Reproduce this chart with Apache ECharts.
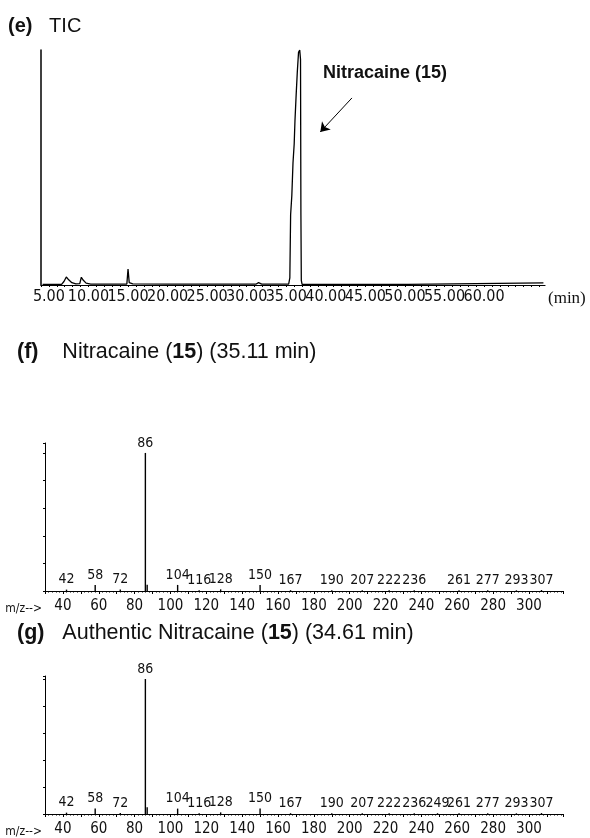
<!DOCTYPE html>
<html>
<head>
<meta charset="utf-8">
<script src="https://cdn.jsdelivr.net/npm/echarts@6/dist/echarts.min.js"></script>
<style>
  html, body { margin: 0; padding: 0; background: #fff; }
  #chart { width: 590px; height: 838px; }
</style>
</head>
<body>
<div id="chart"></div>
<script>
// Total ion chromatogram: [retention time (min), relative intensity (%)]
const ticTrace = [
  [4.2, 0.3], [6.6, 0.3], [6.9, 1.5], [7.2, 3.4], [7.5, 2.2], [7.9, 1.0], [8.4, 0.5],
  [8.9, 0.6], [9.1, 3.3], [9.35, 2.0], [9.7, 0.8], [10.3, 0.4],
  [14.85, 0.4], [15.0, 6.8], [15.15, 1.0], [15.6, 0.5],
  [20.0, 0.4], [24.6, 0.4], [24.85, 1.2], [25.1, 0.4],
  [31.2, 0.4], [31.5, 1.0], [31.9, 0.4],
  [35.3, 0.4], [35.45, 3.0], [35.55, 30], [35.7, 38], [35.85, 52], [36.0, 60],
  [36.1, 70], [36.25, 81], [36.4, 91], [36.55, 99], [36.7, 100], [36.8, 96],
  [36.85, 30], [36.9, 2.0], [37.0, 0.3],
  [50.4, 0.3], [50.6, 0.9], [67.5, 0.9]
];
const ticTickLabels = [5, 10, 15, 20, 25, 30, 35, 40, 45, 50, 55, 60];

// Mass spectrum (f): sample peak at 35.11 min
const mzF =     [42,  58,  72,  86,  87,  104, 116, 128, 150, 167, 190, 207, 222, 236, 261, 277, 293, 307];
const abundF =  [1.0, 4.4, 1.0, 100, 4.5, 4.4, 0.6, 1.2, 4.4, 0.6, 0.5, 0.6, 0.6, 0.5, 0.6, 0.5, 0.5, 0.7];

// Mass spectrum (g): authentic standard at 34.61 min
const mzG =     [42,  58,  72,  86,  87,  104, 116, 128, 150, 167, 190, 207, 222, 236, 249, 261, 277, 293, 307];
const abundG =  [1.0, 4.0, 0.8, 100, 5.0, 4.0, 0.6, 1.2, 4.0, 0.6, 0.5, 0.6, 0.6, 0.6, 0.6, 0.6, 0.5, 0.5, 0.7];

const mzTickLabels = [40, 60, 80, 100, 120, 140, 160, 180, 200, 220, 240, 260, 280, 300];
const unlabeledMz = [87];

const INK = '#111';
const SANS = '"Liberation Sans", Arial, sans-serif';
const NARROW = '"Liberation Sans Narrow", "DejaVu Sans Condensed", sans-serif';
const SERIF = '"Liberation Serif", "Times New Roman", serif';

const chart = echarts.init(document.getElementById('chart'), null, { renderer: 'canvas' });

function spectrumXAxis(gridIndex) {
  return {
    gridIndex, type: 'value', min: 30, max: 319, interval: 10,
    axisLine: { lineStyle: { color: '#000', width: 1 } },
    axisTick: { length: 3, lineStyle: { color: '#000', width: 1 } },
    minorTick: { show: true, splitNumber: 5, length: 1.5, lineStyle: { color: '#000', width: 1 } },
    splitLine: { show: false },
    axisLabel: {
      formatter: v => (mzTickLabels.includes(v) ? String(v) : ''),
      showMaxLabel: false, showMinLabel: false,
      fontFamily: NARROW, fontSize: 15, color: INK, margin: 8
    },
    name: 'm/z-->', nameLocation: 'start', nameGap: 3,
    nameTextStyle: { fontFamily: NARROW, fontSize: 12, color: INK, verticalAlign: 'top', padding: [12, 0, 0, 0] }
  };
}

function spectrumYAxis(gridIndex, max) {
  return {
    gridIndex, type: 'value', min: 0, max, interval: 20,
    axisLine: { show: true, lineStyle: { color: '#000', width: 1 } },
    axisTick: { show: true, length: 2, lineStyle: { color: '#000' } },
    axisLabel: { show: false }, splitLine: { show: false }
  };
}

function spectrumSeries(idx, mz, abund) {
  return {
    type: 'bar', xAxisIndex: idx, yAxisIndex: idx,
    data: mz.map((m, i) => [m, abund[i]]),
    barWidth: 1.4,
    itemStyle: { color: '#000' },
    label: {
      show: true, position: 'top', distance: 3,
      formatter: p => (unlabeledMz.includes(p.value[0]) ? '' : String(p.value[0])),
      fontFamily: NARROW, fontSize: 14, color: INK
    },
    silent: true
  };
}

const option = {
  animation: false,
  backgroundColor: '#fff',
  grid: [
    { left: 41, top: 50, width: 504, height: 235 },
    { left: 45, top: 443, width: 518, height: 148 },
    { left: 45, top: 676, width: 518, height: 140 }
  ],
  xAxis: [
    {
      gridIndex: 0, type: 'value', min: 4, max: 67.7, interval: 1,
      axisLine: { lineStyle: { color: '#000', width: 1.2 } },
      axisTick: { length: 2, lineStyle: { color: '#000' } },
      splitLine: { show: false },
      axisLabel: {
        formatter: v => (ticTickLabels.includes(v) ? v.toFixed(2) : ''),
        showMaxLabel: false,
        fontFamily: NARROW, fontSize: 16, color: INK, margin: 4
      },
      name: '(min)', nameLocation: 'end', nameGap: 3,
      nameTextStyle: { fontFamily: SERIF, fontSize: 17, color: INK, align: 'left', verticalAlign: 'top', padding: [5, 0, 0, 0] }
    },
    spectrumXAxis(1),
    spectrumXAxis(2)
  ],
  yAxis: [
    {
      gridIndex: 0, type: 'value', min: 0, max: 100,
      axisLine: { show: true, lineStyle: { color: '#000', width: 1.5 } },
      axisTick: { show: false }, axisLabel: { show: false }, splitLine: { show: false }
    },
    spectrumYAxis(1, 107.2),
    spectrumYAxis(2, 102.2)
  ],
  series: [
    {
      type: 'line', xAxisIndex: 0, yAxisIndex: 0,
      data: ticTrace, showSymbol: false, symbol: 'none',
      lineStyle: { color: '#000', width: 1.3 },
      silent: true,
      markLine: {
        silent: true, symbol: ['none', 'arrow'], symbolSize: 9,
        label: { show: false },
        lineStyle: { color: '#000', width: 1, type: 'solid' },
        data: [[{ coord: [43.3, 79.6] }, { coord: [39.3, 65.1] }]]
      }
    },
    spectrumSeries(1, mzF, abundF),
    spectrumSeries(2, mzG, abundG)
  ],
  graphic: [
    {
      type: 'text', x: 8, y: 26,
      style: {
        text: '{b|(e)}   TIC', fill: INK, font: '20px ' + SANS, verticalAlign: 'middle',
        rich: { b: { fontWeight: 'bold', fontSize: 20, fontFamily: SANS, fill: INK } }
      }
    },
    {
      type: 'text', x: 323, y: 73,
      style: { text: 'Nitracaine (15)', fill: INK, font: 'bold 18px ' + SANS, verticalAlign: 'middle' }
    },
    {
      type: 'text', x: 17, y: 352,
      style: {
        text: '{b|(f)}    Nitracaine ({b|15}) (35.11 min)', fill: INK, font: '21.5px ' + SANS, verticalAlign: 'middle',
        rich: { b: { fontWeight: 'bold', fontSize: 21.5, fontFamily: SANS, fill: INK } }
      }
    },
    {
      type: 'text', x: 17, y: 633,
      style: {
        text: '{b|(g)}   Authentic Nitracaine ({b|15}) (34.61 min)', fill: INK, font: '21.5px ' + SANS, verticalAlign: 'middle',
        rich: { b: { fontWeight: 'bold', fontSize: 21.5, fontFamily: SANS, fill: INK } }
      }
    }
  ]
};

chart.setOption(option);
</script>
</body>
</html>
